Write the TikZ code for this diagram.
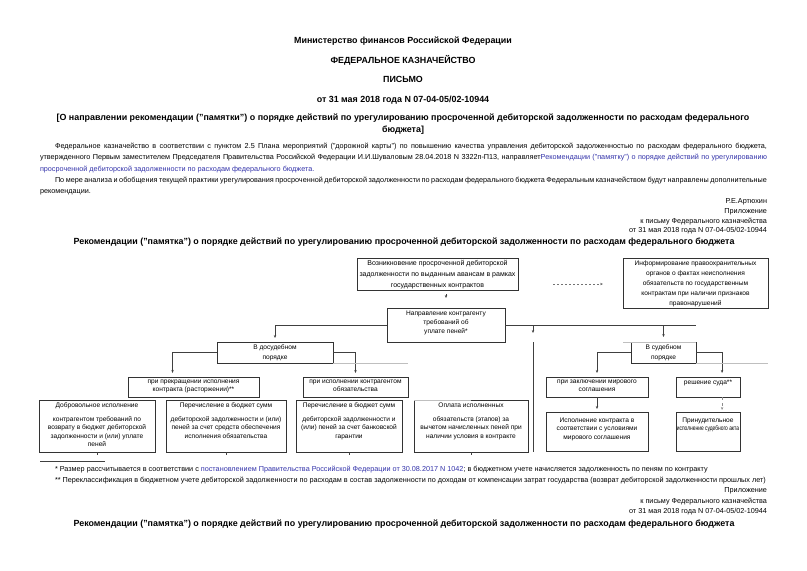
\documentclass[tikz,border=0pt]{standalone}
\usepackage{fontspec}
\usepackage{graphicx}
\setmainfont{Liberation Sans}
\usetikzlibrary{arrows.meta,calc,positioning}
\definecolor{linkblue}{RGB}{51,51,170}
% text of a box: (top gap), width, height, leading, lines
\newcommand{\celltext}[5][2.5pt]{\parbox[c][#3][t]{#2}{\fontsize{6.6}{#4}\selectfont\centering\vspace*{#1}#5}}

\begin{document}
\begin{tikzpicture}
		[x=1pt,y=-1pt,
		every node/.style={inner sep=0pt,outer sep=0pt},
		box/.style={draw=black!80,line width=0.7pt,fill=white,anchor=north west},
		line/.style={draw=black!75,line width=0.6pt},
		tick/.style={line,-{Stealth[length=3pt,width=2.4pt]}},
		faint/.style={draw=black!25,line width=0.6pt},
		head/.style={font=\fontsize{8.9}{10}\selectfont\bfseries,text height=6.4pt,text depth=1.6pt},
		body/.style={font=\fontsize{7.25}{9}\selectfont,anchor=west,text height=5pt,text depth=1.5pt},
		rbody/.style={body,anchor=east}]
		\fill[white] (0,0) rectangle (807,571);
		\useasboundingbox (0,0) rectangle (807,571);
		
		% letter
		\node [head] (ministry) at (403,41) {Министерство финансов Российской Федерации};
		\node [head] (treasury) at (403,61) {ФЕДЕРАЛЬНОЕ КАЗНАЧЕЙСТВО};
		\node [head] (letter) at (403,80) {ПИСЬМО};
		\node [head] (date) at (403,100) {от 31 мая 2018 года N 07-04-05/02-10944};
		\node [head] (subject) at (403,118) {[О направлении рекомендации ("памятки") о порядке действий по урегулированию просроченной дебиторской задолженности по расходам федерального};
		\node [head] (subject2) at (403,130) {бюджета]};
		
		\node [body] (para1a) at (55,147) {\makebox[712pt][s]{Федеральное казначейство в соответствии с пунктом 2.5 Плана мероприятий ("дорожной карты") по повышению качества управления дебиторской задолженностью по расходам федерального бюджета,}};
		\node [body] (para1b) at (40,158) {\makebox[727pt][s]{утвержденного Первым заместителем Председателя Правительства Российской Федерации И.И.Шуваловым 28.04.2018 N 3322п-П13, направляет\textcolor{linkblue}{Рекомендации ("памятку") о порядке действий по урегулированию}}};
		\node [body] (para1c) at (40,170) {\textcolor{linkblue}{просроченной дебиторской задолженности по расходам федерального бюджета.}};
		\node [body] (para2a) at (55,181) {\makebox[712pt][s]{По мере анализа и обобщения текущей практики урегулирования просроченной дебиторской задолженности по расходам федерального бюджета Федеральным казначейством будут направлены дополнительные}};
		\node [body] (para2b) at (40,192) {рекомендации.};
		
		\node [rbody] (signer) at (767,202) {Р.Е.Артюхин};
		\node [rbody] (annex) at (767,212) {Приложение};
		\node [rbody] (annexto) at (767,222) {к письму Федерального казначейства};
		\node [rbody] (annexdate) at (767,231) {от 31 мая 2018 года N 07-04-05/02-10944};
		\node [head] (title) at (404,242) {Рекомендации ("памятка") о порядке действий по урегулированию просроченной дебиторской задолженности по расходам федерального бюджета};
		
		% scheme
		\node [box] (A) at (357,258) {\celltext{161pt}{32pt}{11pt}{\fontsize{7}{11}\selectfont Возникновение просроченной дебиторской\\задолженности по выданным авансам в рамках\\государственных контрактов}};
		\node [box] (B) at (623,258) {\celltext{145pt}{50pt}{10pt}{Информирование правоохранительных\\органов о фактах неисполнения\\обязательств по государственным\\контрактам при наличии признаков\\правонарушений}};
		\node [box] (C) at (387,308) {\celltext{118pt}{34pt}{9pt}{Направление контрагенту\\требований об\\уплате пеней*}};
		\node [box] (D) at (217,342) {\celltext{116pt}{21pt}{10pt}{В досудебном\\порядке}};
		\node [box] (K) at (631,342) {\celltext{65pt}{21pt}{10pt}{В судебном\\порядке}};
		
		\node [box] (E) at (128,377) {\celltext{131pt}{20pt}{8pt}{при прекращении исполнения\\контракта (расторжении)**}};
		\node [box] (F) at (303,377) {\celltext{105pt}{20pt}{8pt}{при исполнении контрагентом\\обязательства}};
		\node [box] (L) at (546,377) {\celltext{102pt}{20pt}{8pt}{при заключении мирового\\соглашения}};
		\node [box] (M) at (676,377) {\celltext{64pt}{20pt}{8pt}{решение суда**}};
		
		\node [box] (G) at (39,400) {\celltext{116pt}{52pt}{8.5pt}{Добровольное исполнение\\[5.5pt]контрагентом требований по\\возврату в бюджет дебиторской\\задолженности и (или) уплате\\пеней}};
		\node [box] (H) at (166,400) {\celltext{120pt}{52pt}{8.5pt}{Перечисление в бюджет сумм\\[5.5pt]дебиторской задолженности и (или)\\пеней за счет средств обеспечения\\исполнения обязательства}};
		\node [box] (I) at (296,400) {\celltext{106pt}{52pt}{8.5pt}{Перечисление в бюджет сумм\\[5.5pt]дебиторской задолженности и\\(или) пеней за счет банковской\\гарантии}};
		\node [box] (J) at (414,400) {\celltext{114pt}{52pt}{8.5pt}{Оплата исполненных\\[5.5pt]обязательств (этапов) за\\вычетом начисленных пеней при\\наличии условия в контракте}};
		\node [box] (N) at (546,412) {\celltext[5.5pt]{102pt}{39pt}{8.5pt}{Исполнение контракта в\\соответствии с условиями\\мирового соглашения}};
		\node [box] (O) at (676,412) {\celltext[5.5pt]{64pt}{39pt}{8.5pt}{Принудительное\\\scalebox{0.74}[1]{исполнение судебного акта}}};
		
		\coordinate (Ein) at ($(E.north west)!0.34!(E.north east)$);
		\coordinate (Min) at ($(M.north west)!0.72!(M.north east)$);
		\coordinate (drop) at (533,342);
		\coordinate (dashA) at ($(A.east)+(0,10)$);
		\coordinate (dashB) at (dashA -| B.west);
		
		\draw [tick,shorten >=4pt] (C.west) -| (D.north);
		\draw [tick,shorten >=5pt] (C.east) -| (K.north);
		\draw [line] (C.east -| K.north) -- (C.east -| K.north east);
		\draw [tick,shorten >=4pt] (D.west) -| (Ein);
		\draw [tick,shorten >=4pt] (D.east) -| (F.north);
		\draw [tick,shorten >=4pt] (K.west) -| (L.north);
		\draw [tick,shorten >=4pt] (K.east) -| (Min);
		\draw [tick,shorten <=4pt,shorten >=10pt] (A.south -| C.north) -- (C.north);
		\draw [tick,shorten >=3pt] (L.south) -- (N.north);
		\draw [tick,dashed,draw=black!45,shorten >=2pt] (Min |- M.south) -- (Min |- O.north);
		\draw [tick,shorten >=9pt] (C.east -| drop) -- (drop);
		\draw [line] (drop) -- (drop |- J.south);
		\draw [tick,draw=black!55,dash pattern=on 2pt off 2pt,shorten <=35pt,shorten >=20pt] (dashA) -- (dashB);
		
		% light edges
		\draw [faint] (D.south east) -- (D.south east -| F.east);
		\draw [faint] ($(K.north west)+(-8,0)$) -- (K.north east);
		\draw [faint] (K.south east) -- (K.south east -| B.east);
		\draw [faint] (J.north west) -- (J.north);
		\foreach \b in {G,H,I,J}
		\draw [line] (\b.south) -- ++(0,3);
		
		% footnotes
		\draw [line] (40,461) -- (105,461);
		\node [body] (note1) at (55,470) {* Размер рассчитывается в соответствии с \textcolor{linkblue}{постановлением Правительства Российской Федерации от 30.08.2017 N 1042}; в бюджетном учете начисляется задолженность по пеням по контракту};
		\node [body] (note2) at (55,481) {** Переклассификация в бюджетном учете дебиторской задолженности по расходам в состав задолженности по доходам от компенсации затрат государства (возврат дебиторской задолженности прошлых лет)};
		\node [rbody] (annexb) at (767,491) {Приложение};
		\node [rbody] (annextob) at (767,502) {к письму Федерального казначейства};
		\node [rbody] (annexdateb) at (767,512) {от 31 мая 2018 года N 07-04-05/02-10944};
		\node [head] (titleb) at (404,524) {Рекомендации ("памятка") о порядке действий по урегулированию просроченной дебиторской задолженности по расходам федерального бюджета};
		
		\end{tikzpicture}
\end{document}
